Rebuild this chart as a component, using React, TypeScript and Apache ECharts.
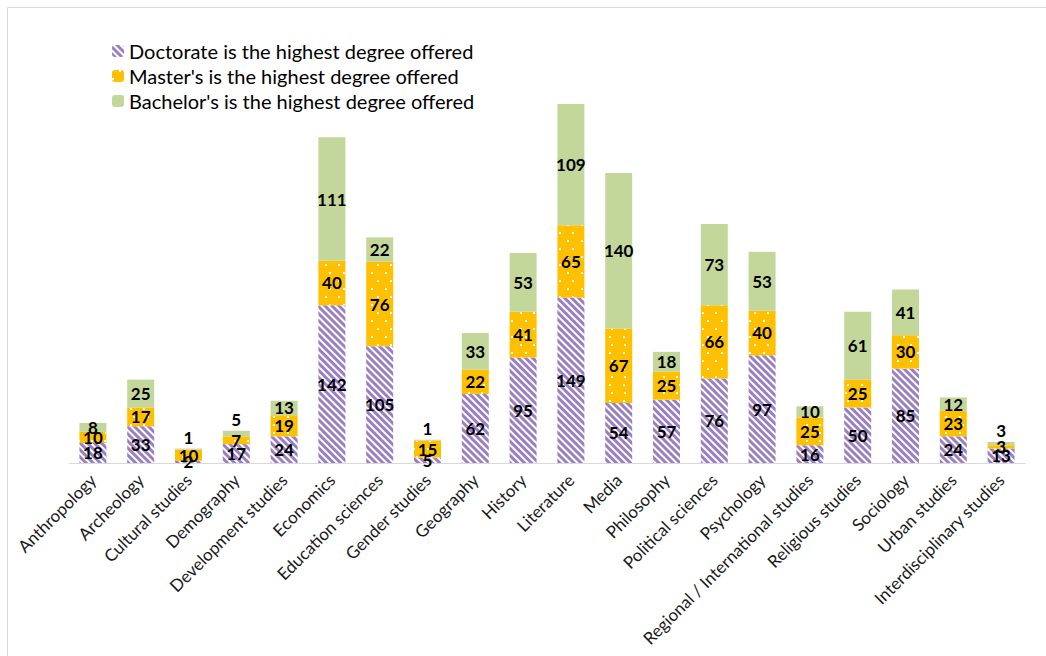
import React, { useEffect, useRef } from "react";
import * as echarts from "echarts";

const categories = [
  "Anthropology",
  "Archeology",
  "Cultural studies",
  "Demography",
  "Development studies",
  "Economics",
  "Education sciences",
  "Gender studies",
  "Geography",
  "History",
  "Literature",
  "Media",
  "Philosophy",
  "Political sciences",
  "Psychology",
  "Regional / International studies",
  "Religious studies",
  "Sociology",
  "Urban studies",
  "Interdisciplinary studies",
];

const doctorate = [18, 33, 2, 17, 24, 142, 105, 5, 62, 95, 149, 54, 57, 76, 97, 16, 50, 85, 24, 13];
const masters = [10, 17, 10, 7, 19, 40, 76, 15, 22, 41, 65, 67, 25, 66, 40, 25, 25, 30, 23, 3];
const bachelors = [8, 25, 1, 5, 13, 111, 22, 1, 33, 53, 109, 140, 18, 73, 53, 10, 61, 41, 12, 3];

const seriesNames = [
  "Doctorate is the highest degree offered",
  "Master's is the highest degree offered",
  "Bachelor's is the highest degree offered",
];

export default function App() {
  const ref = useRef<HTMLDivElement>(null);

  useEffect(() => {
    if (!ref.current) return;
    const chart = echarts.init(ref.current, null, { renderer: "svg" });

    const labelBase = {
      show: true,
      position: "inside" as const,
      color: "#000",
      fontFamily: "Lato",
      fontWeight: "bold" as const,
      fontSize: 17,
    };

    const bachelorData = bachelors.map((v) =>
      v < 6 ? { value: v, label: { position: "top" as const, distance: 3 } } : v
    );

    chart.setOption({
      animation: false,
      backgroundColor: "#fff",
      graphic: [
        {
          type: "rect",
          shape: { x: 7.5, y: 7.5, width: 1100, height: 700 },
          style: { fill: "none", stroke: "#d9d9d9", lineWidth: 1 },
          silent: true,
        },
      ],
      legend: {
        orient: "vertical",
        left: 107,
        top: 36,
        itemWidth: 12,
        itemHeight: 12,
        itemGap: 5,
        textStyle: { fontFamily: "Lato", fontSize: 20, color: "#000" },
        data: seriesNames,
      },
      grid: { left: 69, right: 21, top: 74, bottom: 193 },
      xAxis: {
        type: "category",
        data: categories,
        axisLine: { lineStyle: { color: "#d9d9d9", width: 1 } },
        axisTick: { show: false },
        axisLabel: {
          interval: 0,
          rotate: 45,
          margin: 14,
          color: "#1a1a1a",
          fontFamily: "Lato",
          fontSize: 17,
        },
      },
      yAxis: {
        type: "value",
        min: 0,
        max: 350,
        show: false,
        splitLine: { show: false },
      },
      series: [
        {
          name: seriesNames[0],
          type: "bar",
          stack: "total",
          barWidth: 27,
          data: doctorate,
          itemStyle: {
            color: "#ffffff",
            decal: {
              symbol: "rect",
              symbolSize: 1,
              color: "#9a80c2",
              dashArrayX: [1, 0],
              dashArrayY: [2.2, 2],
              rotation: Math.PI / 4,
            },
          },
          label: labelBase,
        },
        {
          name: seriesNames[1],
          type: "bar",
          stack: "total",
          barWidth: 27,
          data: masters,
          itemStyle: {
            color: "#ffc000",
            decal: {
              symbol: "rect",
              symbolSize: 1,
              color: "#ffffff",
              dashArrayX: [
                [2, 11],
                [0, 6.5, 2, 4.5],
              ],
              dashArrayY: [2, 6],
              rotation: 0,
            },
          },
          label: labelBase,
        },
        {
          name: seriesNames[2],
          type: "bar",
          stack: "total",
          barWidth: 27,
          data: bachelorData,
          itemStyle: { color: "#c4d79b" },
          label: labelBase,
        },
      ],
    });

    return () => chart.dispose();
  }, []);

  return (
    <div
      ref={ref}
      style={{ position: "absolute", left: 0, top: 0, width: 1046, height: 656 }}
    />
  );
}
